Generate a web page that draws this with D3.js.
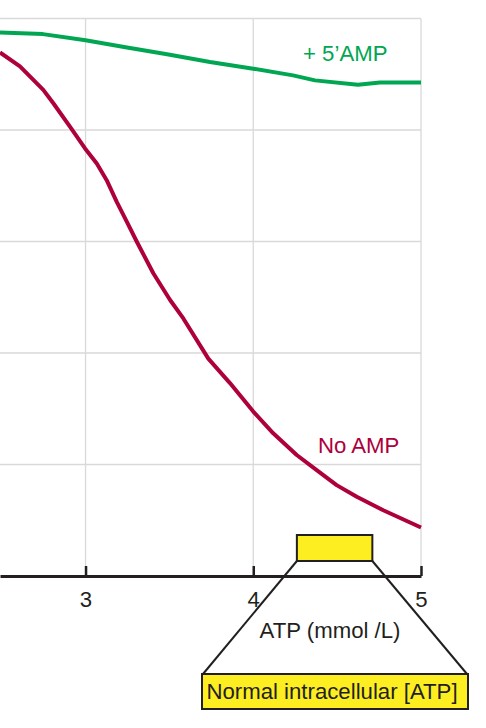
<!DOCTYPE html>
<html>
<head>
<meta charset="utf-8">
<script src="https://cdn.jsdelivr.net/npm/d3@7"></script>
<style>
  body { margin: 0; background: #fff; }
  text { font-family: "Liberation Sans", Arial, Helvetica, sans-serif; }
</style>
</head>
<body>
<div id="chart"></div>
<script>
// ATP (mmol/L) vs activity, with and without 5'AMP
const xTicks = [3, 4, 5];
const yGrid = [20, 40, 60, 80, 100];

const ampX = [2.49, 2.746, 3.0, 3.247, 3.486, 3.742, 4.0, 4.237, 4.368, 4.624, 4.755, 5.0];
const ampY = [97.5, 97.2, 96.1, 94.8, 93.6, 92.2, 91.0, 89.8, 88.9, 88.1, 88.5, 88.5];

const noAmpX = [2.49, 2.609, 2.748, 2.808, 2.907, 2.997, 3.067, 3.126, 3.186, 3.245, 3.305,
                3.404, 3.504, 3.583, 3.732, 3.861, 4.0, 4.119, 4.259, 4.378, 4.497, 4.617, 4.775, 5.0];
const noAmpY = [93.9, 91.4, 87.2, 84.8, 80.6, 76.7, 74.0, 71.0, 67.1, 63.6, 60.0,
                54.3, 49.5, 46.2, 39.0, 34.6, 29.5, 25.6, 21.7, 19.0, 16.3, 14.2, 11.8, 8.7];

const normalRange = [4.26, 4.71];

const width = 486, height = 728;
const ink = "#231f20";
const fs = "22.2px";

const svg = d3.select("#chart").append("svg")
    .attr("width", width)
    .attr("height", height);

const x = d3.scaleLinear().domain([2.49, 5]).range([0, 421]);
const y = d3.scaleLinear().domain([0, 100]).range([576, 18.5]);

// grid
svg.append("g").selectAll("line.h")
    .data(yGrid)
    .enter().append("line")
    .attr("x1", x(2.49)).attr("x2", x(5))
    .attr("y1", d => y(d)).attr("y2", d => y(d))
    .attr("stroke", "#d9d9d9").attr("stroke-width", 1.3);

svg.append("g").selectAll("line.v")
    .data(xTicks)
    .enter().append("line")
    .attr("x1", d => x(d)).attr("x2", d => x(d))
    .attr("y1", y(0)).attr("y2", y(100))
    .attr("stroke", "#d9d9d9").attr("stroke-width", 1.3);

// lines
const line = d3.line()
    .x(d => x(d[0]))
    .y(d => y(d[1]));

svg.append("path")
    .datum(ampX.map((v, i) => [v, ampY[i]]))
    .attr("d", line)
    .attr("fill", "none")
    .attr("stroke", "#00a651")
    .attr("stroke-width", 4)
    .attr("stroke-linejoin", "round");

svg.append("path")
    .datum(noAmpX.map((v, i) => [v, noAmpY[i]]))
    .attr("d", line)
    .attr("fill", "none")
    .attr("stroke", "#ad003c")
    .attr("stroke-width", 4)
    .attr("stroke-linejoin", "round");

svg.append("text")
    .attr("x", 303).attr("y", 61)
    .attr("fill", "#00a651")
    .style("font-size", fs)
    .text("+ 5\u2019AMP");

svg.append("text")
    .attr("x", 318).attr("y", 453)
    .attr("fill", "#ad003c")
    .style("font-size", fs)
    .text("No AMP");

// x axis
const xAxisG = svg.append("g")
    .attr("transform", "translate(0," + y(0) + ")")
    .call(d3.axisBottom(x).tickValues(xTicks).tickFormat(d3.format("d"))
        .tickSizeInner(-10).tickSizeOuter(0).tickPadding(15));

xAxisG.select(".domain")
    .attr("stroke", ink)
    .attr("stroke-width", 3);
xAxisG.selectAll(".tick line")
    .attr("stroke", ink)
    .attr("stroke-width", 2.5);
xAxisG.selectAll(".tick text")
    .attr("fill", ink)
    .style("font-size", fs)
    .style("font-family", "'Liberation Sans', Arial, sans-serif");

// normal range annotation
const boxTop = 535, boxBottom = 561;
const bigL = 202, bigR = 468, bigTop = 674, bigBottom = 709;

svg.append("line")
    .attr("x1", x(normalRange[0])).attr("y1", boxBottom)
    .attr("x2", bigL + 1).attr("y2", bigTop)
    .attr("stroke", ink).attr("stroke-width", 2);
svg.append("line")
    .attr("x1", x(normalRange[1])).attr("y1", boxBottom)
    .attr("x2", bigR - 1).attr("y2", bigTop)
    .attr("stroke", ink).attr("stroke-width", 2);

svg.append("rect")
    .attr("x", x(normalRange[0])).attr("y", boxTop)
    .attr("width", x(normalRange[1]) - x(normalRange[0]))
    .attr("height", boxBottom - boxTop)
    .attr("fill", "#fcee21")
    .attr("stroke", ink).attr("stroke-width", 2);

svg.append("text")
    .attr("x", 330).attr("y", 638)
    .attr("text-anchor", "middle")
    .attr("fill", ink)
    .style("font-size", fs)
    .text("ATP (mmol /L)");

svg.append("rect")
    .attr("x", bigL).attr("y", bigTop)
    .attr("width", bigR - bigL).attr("height", bigBottom - bigTop)
    .attr("fill", "#fcee21")
    .attr("stroke", ink).attr("stroke-width", 2);

svg.append("text")
    .attr("x", 332).attr("y", 699)
    .attr("text-anchor", "middle")
    .attr("fill", ink)
    .style("font-size", fs)
    .text("Normal intracellular [ATP]");
</script>
</body>
</html>
